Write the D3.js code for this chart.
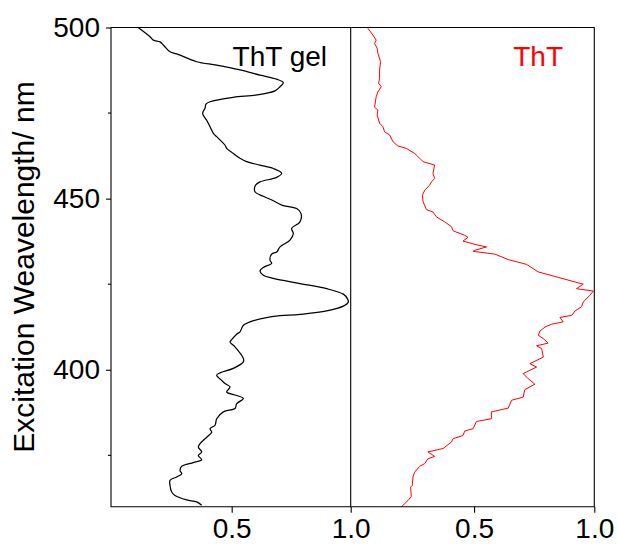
<!DOCTYPE html>
<html><head><meta charset="utf-8">
<script src="https://cdn.jsdelivr.net/npm/d3@7"></script>
<style>body{margin:0;background:#fff}svg{display:block}text{font-family:"Liberation Sans",Arial,sans-serif}</style>
</head><body><svg id="c" width="617" height="544"></svg>
<script>
const gelWl=[500.0,497.3,496.3,495.8,494.9,492.9,492.3,490.0,489.0,487.6,486.1,484.9,483.9,482.7,481.5,480.3,479.6,478.3,477.6,476.4,474.9,472.9,471.0,469.1,468.1,465.6,464.7,463.2,461.8,460.8,459.8,458.8,457.4,456.2,454.9,453.9,452.0,450.7,449.4,448.1,447.1,445.7,443.2,441.3,439.8,437.9,435.9,434.4,433.8,432.0,431.1,429.9,428.9,427.6,426.7,425.2,423.7,422.1,420.8,419.8,418.6,417.2,416.2,415.6,414.0,413.0,411.1,410.4,408.8,408.1,406.7,403.3,402.3,400.4,399.1,398.4,396.9,396.0,395.0,393.5,392.5,391.6,390.1,388.7,387.7,385.7,383.8,382.8,381.8,380.3,378.4,377.4,376.0,375.0,373.7,372.9,371.8,370.6,369.6,368.7,367.7,366.2,364.3,363.3,362.0,361.4,360.4];
const gelInt=[0.107,0.157,0.171,0.199,0.213,0.241,0.269,0.353,0.437,0.535,0.619,0.689,0.717,0.703,0.682,0.605,0.507,0.409,0.392,0.388,0.378,0.395,0.409,0.423,0.437,0.472,0.479,0.507,0.535,0.563,0.619,0.675,0.710,0.689,0.619,0.600,0.598,0.633,0.675,0.710,0.773,0.791,0.787,0.752,0.759,0.745,0.703,0.689,0.668,0.661,0.668,0.633,0.619,0.633,0.675,0.787,0.899,0.969,0.986,0.990,0.969,0.899,0.787,0.675,0.577,0.549,0.535,0.521,0.500,0.493,0.514,0.549,0.549,0.507,0.451,0.437,0.458,0.472,0.493,0.479,0.521,0.549,0.521,0.514,0.465,0.437,0.430,0.409,0.416,0.395,0.367,0.360,0.374,0.360,0.374,0.339,0.290,0.283,0.290,0.269,0.241,0.241,0.248,0.262,0.311,0.353,0.374];
const thtWl=[499.8,497.8,496.3,495.4,493.9,492.5,490.0,487.6,485.1,483.7,482.7,481.2,479.8,476.7,475.9,474.4,472.0,471.0,469.5,468.6,466.6,465.4,464.7,463.2,461.8,460.8,459.8,457.4,455.9,454.9,453.9,452.5,451.0,449.1,446.8,446.1,444.7,443.2,441.8,440.6,439.3,438.7,437.6,436.4,435.9,434.9,434.6,433.8,432.2,430.8,428.6,427.0,425.0,423.7,423.0,421.8,419.8,418.4,417.2,415.9,415.3,414.0,413.3,412.5,411.3,410.1,409.1,407.8,407.0,406.2,403.7,401.8,400.8,398.9,397.4,395.8,394.2,392.0,391.1,388.8,387.7,385.7,384.9,382.8,382.1,380.8,379.9,378.9,377.0,376.0,374.7,374.0,372.6,371.8,370.1,368.7,366.2,365.7,363.0,361.8,359.9];
const thtInt=[0.058,0.079,0.093,0.086,0.097,0.100,0.111,0.107,0.107,0.103,0.114,0.100,0.093,0.086,0.100,0.097,0.107,0.121,0.128,0.149,0.163,0.183,0.218,0.253,0.274,0.288,0.336,0.329,0.336,0.323,0.315,0.295,0.285,0.288,0.302,0.329,0.343,0.378,0.406,0.413,0.461,0.475,0.454,0.517,0.552,0.503,0.496,0.586,0.642,0.718,0.767,0.850,0.954,0.926,0.996,0.982,0.954,0.947,0.920,0.906,0.857,0.871,0.822,0.795,0.774,0.767,0.788,0.808,0.760,0.781,0.788,0.732,0.760,0.704,0.725,0.753,0.711,0.704,0.656,0.642,0.572,0.572,0.510,0.496,0.461,0.454,0.413,0.406,0.371,0.308,0.336,0.308,0.295,0.274,0.253,0.246,0.243,0.236,0.239,0.225,0.197];
const yTicks=[400,450,500];
const yMinor=[375,425,475];
const xTicks=[0.5,1.0];
const yLabel="Excitation Weavelength/ nm";
const gelLabel="ThT gel", thtLabel="ThT";

const svg=d3.select("#c");
const yTop=27.5, yBot=506.7;
const y=d3.scaleLinear().domain([360,500]).range([yBot,yTop]);
const xL=d3.scaleLinear().domain([-0.007,1]).range([111,350.7]);
const xR=d3.scaleLinear().domain([-0.011,1]).range([351.2,594.3]);
const FS=28;

const defs=svg.append("defs");
[["cl",xL],["cr",xR]].forEach(([id,s])=>{
  defs.append("clipPath").attr("id",id).append("rect")
   .attr("x",s.range()[0]).attr("y",yTop).attr("width",s.range()[1]-s.range()[0]).attr("height",yBot-yTop);
});

function panel(x,wl,val,color,width,curve,clip,label,labelX,drawLeft){
  const data=wl.map((w,i)=>({w,v:val[i]}));
  svg.append("path").datum(data).attr("clip-path",`url(#${clip})`)
    .attr("fill","none").attr("stroke",color).attr("stroke-width",width)
    .attr("stroke-linejoin","round")
    .attr("d",d3.line().x(d=>x(d.v)).y(d=>y(d.w)).curve(curve));
  const [x0,x1]=x.range();
  const fr=svg.append("g").attr("stroke","#000").attr("stroke-width",1.1).attr("fill","none");
  fr.append("path").attr("d",`M${x0},${yTop}H${x1}V${yBot}H${x0}`+(drawLeft?`V${yTop}`:""));
  const ax=svg.append("g").attr("transform",`translate(0,${yBot})`)
    .call(d3.axisBottom(x).tickValues(xTicks).tickFormat(d3.format(".1f")).tickSize(6).tickPadding(5.3));
  ax.select(".domain").remove();
  ax.selectAll("line").attr("stroke","#000").attr("stroke-width",1.1);
  ax.selectAll("text").attr("font-size",FS).attr("fill","#000").attr("font-family","Liberation Sans, Arial, sans-serif");
  svg.append("text").attr("x",labelX).attr("y",66).attr("text-anchor","end")
    .attr("font-size",28).attr("fill",color).text(label);
}

panel(xL,gelWl,gelInt,"#000",1.25,d3.curveCatmullRom,"cl",gelLabel,327,true);
panel(xR,thtWl,thtInt,"#ff0000",1,d3.curveLinear,"cr",thtLabel,563,false);

const ya=svg.append("g").attr("transform",`translate(${xL.range()[0]},0)`)
  .call(d3.axisLeft(y).tickValues(yTicks).tickSize(5).tickPadding(6));
ya.select(".domain").remove();
ya.selectAll("line").attr("stroke","#000").attr("stroke-width",1.1);
ya.selectAll("text").attr("font-size",FS).attr("fill","#000").attr("font-family","Liberation Sans, Arial, sans-serif");
svg.append("g").selectAll("line").data(yMinor).join("line")
  .attr("x1",xL.range()[0]-3).attr("x2",xL.range()[0]).attr("y1",d=>y(d)).attr("y2",d=>y(d))
  .attr("stroke","#000").attr("stroke-width",1.1);

svg.append("text").attr("transform",`translate(34,267) rotate(-90)`)
  .attr("text-anchor","middle").attr("font-size",30).attr("fill","#000").text(yLabel);
</script></body></html>
